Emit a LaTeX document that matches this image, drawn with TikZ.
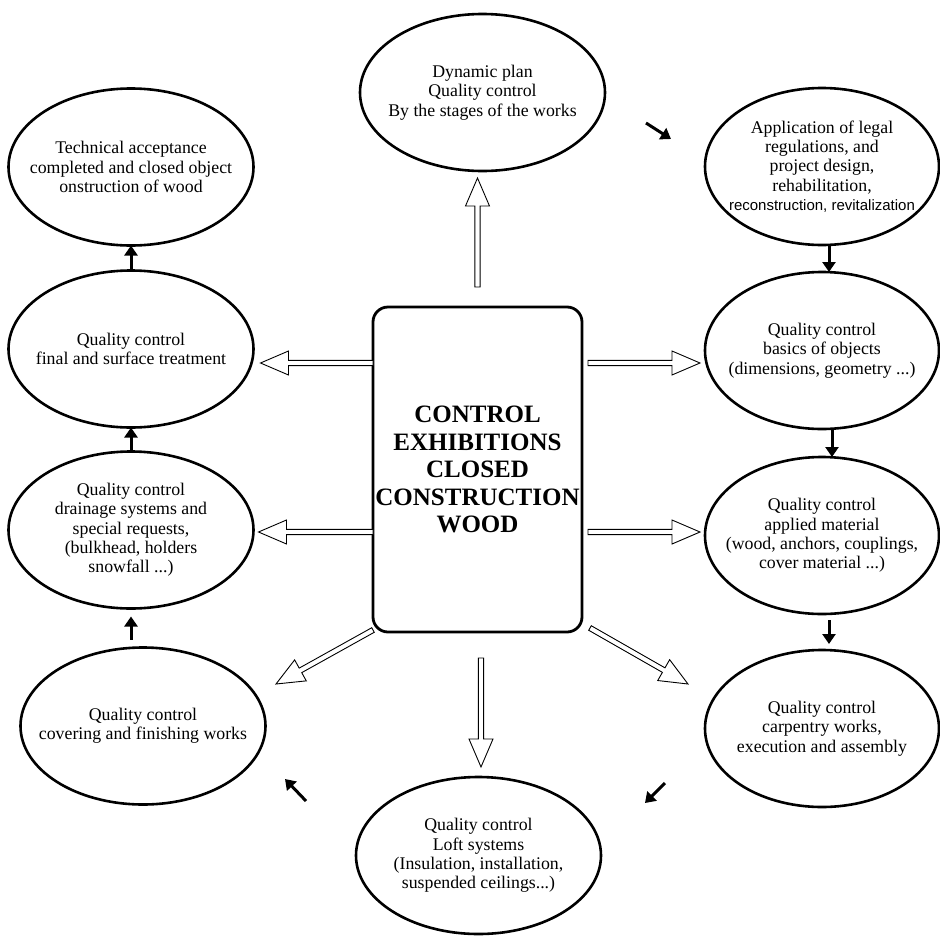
\documentclass[tikz,border=0pt]{standalone}
\usepackage{fontspec}
\setmainfont{Liberation Serif}
\newfontfamily\arialfont{Liberation Sans}
\usetikzlibrary{shapes, arrows.meta, positioning, calc}

% hollow block arrow from a tail point to a tip point
\newcommand{\hollowarrow}[2]{%
    \coordinate (ha-tail) at #1;
    \coordinate (ha-tip) at #2;
    \coordinate (ha-base) at ($(ha-tip)!28pt!(ha-tail)$);
    \draw [hollow] ($(ha-tail)!2.6pt!90:(ha-tip)$) -- ($(ha-base)!2.6pt!90:(ha-tip)$)
        -- ($(ha-base)!12pt!90:(ha-tip)$) -- (ha-tip) -- ($(ha-base)!12pt!-90:(ha-tip)$)
        -- ($(ha-base)!2.6pt!-90:(ha-tip)$) -- ($(ha-tail)!2.6pt!-90:(ha-tip)$) -- cycle;
}

\begin{document}
\begin{tikzpicture}[
    x=1pt, y=1pt,
    oval/.style={
        ellipse, draw, line width=2.6pt, minimum width=245pt, minimum height=157pt,
        inner xsep=-40pt, inner ysep=0pt, outer sep=0pt, align=center,
        font=\fontsize{17.8}{19.3}\selectfont
    },
    narrow/.style={minimum width=234pt},
    core/.style={
        rectangle, draw, line width=2.8pt, rounded corners=15pt, minimum width=209pt,
        minimum height=325pt, inner sep=0pt, outer sep=0pt, align=center,
        font=\bfseries\fontsize{25}{27.5}\selectfont
    },
    flow/.style={line width=3pt, -{Triangle[length=10pt, width=13pt]}},
    hollow/.style={draw, line width=0.9pt, fill=white, line join=miter}
]
    \useasboundingbox (0,0) rectangle (940,-935);

    % --- nodes ---
    \node [core] (core) at (477.5,-469.5) {CONTROL\\EXHIBITIONS\\CLOSED\\CONSTRUCTION\\WOOD};
    \node [oval] (plan) at (482.5,-92.5) {Dynamic plan\\Quality control\\By the stages of the works};

    \node [oval] (accept) at (131,-167) {Technical acceptance\\completed and closed object\\onstruction of wood};
    \node [oval, below=25pt of accept] (finish) {Quality control\\final and surface treatment};
    \node [oval, below=24pt of finish] (drain) {Quality control\\drainage systems and\\special requests,\\(bulkhead, holders\\snowfall ...)};
    \node [oval, below=39pt of drain, xshift=12pt] (cover) {Quality control\\covering and finishing works};

    \node [oval, narrow] (legal) at (822,-166.5) {Application of legal\\regulations, and\\project design,\\rehabilitation,\\{\arialfont\fontsize{15}{17}\selectfont reconstruction, revitalization}};
    \node [oval, narrow, below=27pt of legal] (basics) {Quality control\\basics of objects\\(dimensions, geometry ...)};
    \node [oval, narrow, below=28pt of basics] (material) {Quality control\\applied material\\(wood, anchors, couplings,\\cover material ...)};
    \node [oval, narrow, below=36pt of material] (carpentry) {Quality control\\carpentry works,\\execution and assembly};

    \node [oval] (loft) at (478.5,-855.5) {Quality control\\Loft systems\\(Insulation, installation,\\suspended ceilings...)};

    % --- chain arrows ---
    \draw [flow] (finish) -- (accept);
    \draw [flow] (drain) -- (finish);
    \draw [flow, shorten <=8pt, shorten >=8pt] (cover.north -| drain.south) -- (drain.south);
    \draw [flow] ([xshift=7pt]legal.south) -- ([xshift=7pt]basics.north);
    \draw [flow] ([xshift=10pt]basics.south) -- ([xshift=10pt]material.north);
    \draw [flow, shorten <=6pt, shorten >=6pt] ([xshift=7pt]material.south) -- ([xshift=7pt]carpentry.north);

    % --- loose turn arrows ---
    \coordinate (ne-a) at (646,-123);
    \coordinate (ne-b) at (671,-139);
    \coordinate (se-a) at (665,-783);
    \coordinate (se-b) at (645,-803);
    \coordinate (sw-a) at (306,-801);
    \coordinate (sw-b) at (285,-779);
    \draw [flow] (ne-a) -- (ne-b);
    \draw [flow] (se-a) -- (se-b);
    \draw [flow] (sw-a) -- (sw-b);

    % --- hollow arrows out of the core ---
    \hollowarrow{([yshift=20pt]core.north)}{([yshift=-7pt]core.north |- plan.south)}
    \hollowarrow{([yshift=106.5pt]core.west)}{([shift={(7pt,-14pt)}]finish.east)}
    \hollowarrow{([yshift=-62.5pt]core.west)}{([shift={(5pt,-2pt)}]drain.east)}
    \hollowarrow{([shift={(6pt,106.5pt)}]core.east)}{([shift={(-5pt,-12.5pt)}]basics.west)}
    \hollowarrow{([shift={(6pt,-62.5pt)}]core.east)}{([shift={(-5pt,3.5pt)}]material.west)}
    \hollowarrow{([yshift=2pt]core.south west)}{([shift={(133pt,42pt)}]cover.center)}
    \hollowarrow{([shift={(8pt,4pt)}]core.south east)}{([shift={(-134pt,44.5pt)}]carpentry.center)}
    \hollowarrow{([shift={(3.5pt,-26pt)}]core.south)}{([shift={(2.5pt,10pt)}]loft.north)}

\end{tikzpicture}
\end{document}
